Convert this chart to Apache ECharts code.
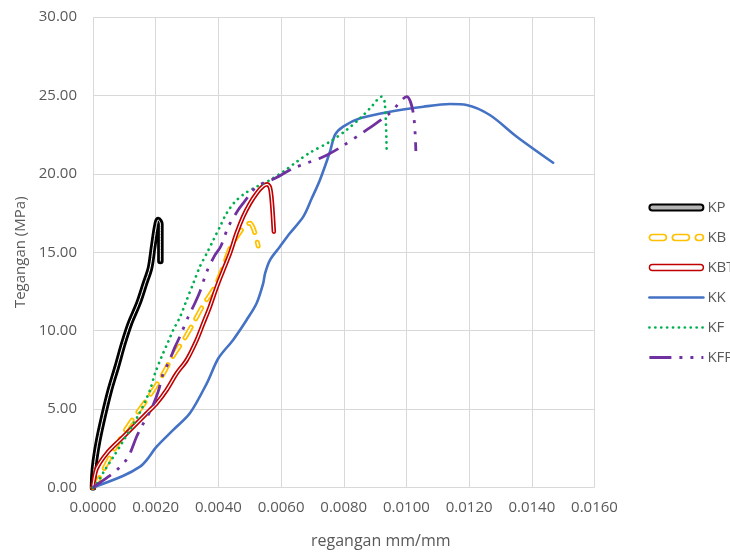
<!DOCTYPE html>
<html>
<head>
<meta charset="utf-8">
<script src="https://cdn.jsdelivr.net/npm/echarts@6/dist/echarts.min.js"></script>
<style>
  html, body { margin: 0; padding: 0; background: #fff; }
  #chart { width: 730px; height: 554px; }
</style>
</head>
<body>
<div id="chart"></div>
<script>
// Stress-strain curves (strain in mm/mm, stress in MPa)
const kpStrain = [0, 0.000016, 0.000064, 0.00017, 0.00033, 0.00054, 0.00076, 0.00097, 0.00118, 0.00145, 0.00166, 0.00182, 0.00192, 0.00201, 0.00208, 0.00215, 0.00215];
const kpStress = [0, 0.80, 1.75, 3.03, 4.51, 6.22, 7.70, 9.19, 10.47, 11.75, 13.02, 14.00, 15.35, 16.55, 17.06, 16.80, 14.44];

const kbStrain = [0, 0.00017, 0.00044, 0.00076, 0.00107, 0.00144, 0.00182, 0.00219, 0.00251, 0.00293, 0.00320, 0.00352, 0.00389, 0.00416, 0.00437, 0.00469, 0.00488, 0.00501, 0.00511, 0.00520, 0.00527];
const kbStress = [0, 0.48, 1.54, 2.71, 3.77, 4.83, 5.90, 7.07, 8.24, 9.53, 10.47, 11.64, 12.80, 14.08, 15.25, 16.29, 16.74, 16.85, 16.55, 15.97, 15.40];

const kbtStrain = [0, 0.00001, 0.00012, 0.00044, 0.00086, 0.00129, 0.00171, 0.00203, 0.00235, 0.00267, 0.00299, 0.00331, 0.00352, 0.00373, 0.00395, 0.00416, 0.00437, 0.00458, 0.00479, 0.00501, 0.00522, 0.00543, 0.00556, 0.00565, 0.00571, 0.00577];
const kbtStress = [0, 0.27, 1.22, 2.18, 3.03, 3.88, 4.73, 5.37, 6.22, 7.28, 8.13, 9.41, 10.47, 11.53, 12.80, 13.87, 14.93, 16.21, 17.27, 18.12, 18.76, 19.22, 19.33, 19.10, 18.14, 16.31];

const kkStrain = [0, 0.00097, 0.00150, 0.00171, 0.00203, 0.00256, 0.00309, 0.00363, 0.00400, 0.00447, 0.00490, 0.00522, 0.00543, 0.00549, 0.00565, 0.00596, 0.00628, 0.00671, 0.00698, 0.00724, 0.00756, 0.00772, 0.00798, 0.00852, 0.00947, 0.01054, 0.01139, 0.01192, 0.01266, 0.01352, 0.01468];
const kkStress = [0, 0.75, 1.33, 1.75, 2.60, 3.67, 4.73, 6.64, 8.24, 9.41, 10.68, 11.75, 13.02, 13.66, 14.52, 15.35, 16.21, 17.27, 18.44, 19.61, 21.41, 22.48, 23.01, 23.54, 23.96, 24.28, 24.45, 24.39, 23.75, 22.37, 20.71];

const kfStrain = [0, 0.00012, 0.00038, 0.00065, 0.00092, 0.00118, 0.00145, 0.00166, 0.00182, 0.00198, 0.00219, 0.00240, 0.00256, 0.00278, 0.00299, 0.00320, 0.00341, 0.00363, 0.00384, 0.00405, 0.00426, 0.00453, 0.00485, 0.00522, 0.00565, 0.00607, 0.00650, 0.00692, 0.00756, 0.00809, 0.00852, 0.00884, 0.00921, 0.00931, 0.00937];
const kfStress = [0, 0.27, 1.12, 1.96, 2.82, 3.68, 4.62, 5.47, 6.22, 7.28, 8.34, 9.30, 10.04, 10.89, 11.96, 13.02, 14.08, 14.93, 15.78, 16.63, 17.48, 18.22, 18.76, 19.18, 19.61, 20.14, 20.77, 21.35, 22.05, 22.80, 23.54, 24.18, 24.92, 24.52, 21.33];

const kfpStrain = [0, 0.00049, 0.00076, 0.00102, 0.00118, 0.00139, 0.00155, 0.00187, 0.00208, 0.00224, 0.00240, 0.00262, 0.00278, 0.00304, 0.00325, 0.00341, 0.00363, 0.00389, 0.00407, 0.00432, 0.00463, 0.00479, 0.00522, 0.00581, 0.00639, 0.00735, 0.00793, 0.00873, 0.00947, 0.01001, 0.01022, 0.01030];
const kfpStress = [0, 0.69, 1.12, 1.65, 2.18, 3.24, 3.88, 5.05, 6.11, 7.28, 7.92, 8.98, 9.66, 10.89, 11.75, 12.48, 13.76, 14.82, 15.35, 16.63, 17.69, 18.12, 19.18, 19.72, 20.35, 21.09, 21.73, 22.80, 23.86, 24.92, 23.86, 21.46];

const seriesNames = ['KP', 'KB', 'KBT', 'KK', 'KF', 'KFP'];
const strainTicks = { min: 0, max: 0.016, step: 0.002 };
const stressTicks = { min: 0, max: 30, step: 5 };

const FONT = '"Open Sans", "Noto Sans", sans-serif';
const TEXT_GREY = '#595959';
const GRID_GREY = '#D9D9D9';

function pairs(xs, ys) {
  return xs.map((x, i) => [x, ys[i]]);
}

// A curve, optionally drawn as a "double" line: a thick coloured stroke
// with a thin white stroke running down its middle.
function curve(name, xs, ys, outer, inner) {
  const data = pairs(xs, ys);
  const base = {
    type: 'line',
    data: data,
    showSymbol: false,
    symbol: 'none',
    smooth: 0.3,
    emphasis: { disabled: true }
  };
  const list = [Object.assign({ name: name, lineStyle: outer }, base)];
  if (inner) {
    list.push(Object.assign({ name: name + ' core', lineStyle: inner, silent: true }, base));
  }
  return list;
}

const capsule = 'path://M3,0 H51 A3,3 0 0 1 51,6 H3 A3,3 0 0 1 3,0 Z';
const capsuleDashes = 'path://M3,0 H14 A3,3 0 0 1 14,6 H3 A3,3 0 0 1 3,0 Z ' +
  'M26,0 H37 A3,3 0 0 1 37,6 H26 A3,3 0 0 1 26,0 Z ' +
  'M49,0 H51 A3,3 0 0 1 51,6 H49 A3,3 0 0 1 49,0 Z';

const series = [].concat(
  curve(seriesNames[0], kpStrain, kpStress,
    { color: '#000000', width: 6.5, cap: 'round', join: 'round' },
    { color: '#ffffff', width: 1.0, cap: 'round', join: 'round' }),
  curve(seriesNames[1], kbStrain, kbStress,
    { color: '#FFC000', width: 5, type: [12, 10], cap: 'round', join: 'round' },
    { color: '#ffffff', width: 1.5, type: [12, 10], cap: 'round', join: 'round' }),
  curve(seriesNames[2], kbtStrain, kbtStress,
    { color: '#C00000', width: 4.5, cap: 'round', join: 'round' },
    { color: '#ffffff', width: 1.2, cap: 'round', join: 'round' }),
  curve(seriesNames[3], kkStrain, kkStress,
    { color: '#4472C4', width: 2.6, cap: 'round', join: 'round' }),
  curve(seriesNames[4], kfStrain, kfStress,
    { color: '#00B050', width: 2.7, type: [0.1, 5.8], cap: 'round', join: 'round' }),
  curve(seriesNames[5], kfpStrain, kfpStress,
    { color: '#7030A0', width: 2.8, type: [22, 8, 3, 8, 3, 8], cap: 'butt', join: 'round' })
);

const hiddenMarker = { opacity: 0, color: 'transparent', borderColor: 'transparent' };

const chart = echarts.init(document.getElementById('chart'), null, { renderer: 'canvas' });

chart.setOption({
  animation: false,
  backgroundColor: '#ffffff',
  textStyle: { fontFamily: FONT },
  grid: {
    left: 93, top: 17, width: 501.5, height: 470.5,
    containLabel: false,
    outerBoundsMode: 'none'
  },
  xAxis: {
    type: 'value',
    min: strainTicks.min,
    max: strainTicks.max,
    interval: strainTicks.step,
    name: 'regangan mm/mm',
    nameLocation: 'middle',
    nameGap: 46,
    nameTextStyle: { color: TEXT_GREY, fontSize: 16, fontFamily: FONT, padding: [0, 0, 0, 74] },
    axisLine: { show: false },
    axisTick: { show: false },
    axisLabel: {
      color: TEXT_GREY, fontSize: 15, fontFamily: FONT, margin: 13,
      formatter: v => v.toFixed(4)
    },
    splitLine: { show: true, lineStyle: { color: GRID_GREY, width: 1 } }
  },
  yAxis: {
    type: 'value',
    min: stressTicks.min,
    max: stressTicks.max,
    interval: stressTicks.step,
    name: 'Tegangan (MPa)',
    nameLocation: 'middle',
    nameRotate: 90,
    nameGap: 63,
    nameTextStyle: { color: TEXT_GREY, fontSize: 15, fontFamily: FONT },
    axisLine: { show: false },
    axisTick: { show: false },
    axisLabel: {
      color: TEXT_GREY, fontSize: 15, fontFamily: FONT, margin: 16,
      formatter: v => v.toFixed(2)
    },
    splitLine: { show: true, lineStyle: { color: GRID_GREY, width: 1 } }
  },
  legend: {
    orient: 'vertical',
    left: 648,
    top: 200,
    itemWidth: 54,
    itemHeight: 6,
    itemGap: 15,
    padding: 0,
    selectedMode: false,
    textStyle: { color: TEXT_GREY, fontSize: 15, fontFamily: FONT, padding: [0, 0, 0, -1] },
    data: [
      { name: seriesNames[0], icon: capsule,
        itemStyle: { color: '#b5b5b5', borderColor: '#000000', borderWidth: 2 } },
      { name: seriesNames[1], icon: capsuleDashes,
        itemStyle: { color: '#ffffff', borderColor: '#FFC000', borderWidth: 1.7 } },
      { name: seriesNames[2], icon: capsule,
        itemStyle: { color: '#ffffff', borderColor: '#C00000', borderWidth: 1.4 } },
      { name: seriesNames[3], itemStyle: hiddenMarker,
        lineStyle: { width: 2.6, color: '#4472C4', type: 'solid', cap: 'round' } },
      { name: seriesNames[4], itemStyle: hiddenMarker,
        lineStyle: { width: 2.7, color: '#00B050', type: [0.1, 5.8], cap: 'round' } },
      { name: seriesNames[5], itemStyle: hiddenMarker,
        lineStyle: { width: 2.8, color: '#7030A0', type: [22, 8, 3, 8, 3, 8], cap: 'butt' } }
    ]
  },
  series: series
});
</script>
</body>
</html>
